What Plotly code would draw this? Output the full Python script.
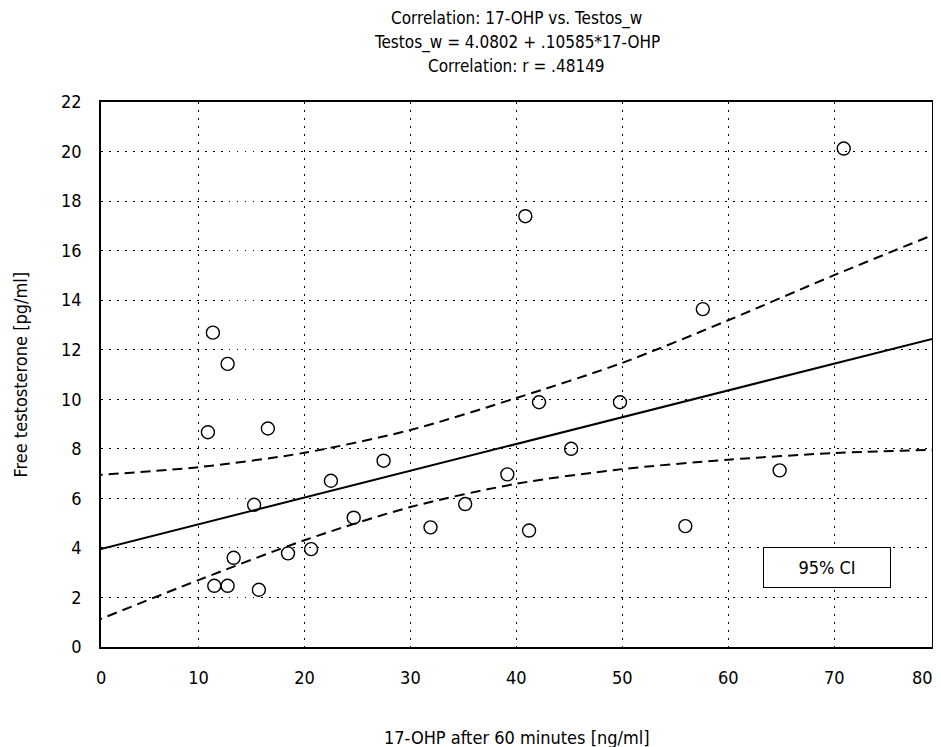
import plotly.graph_objects as go

# Scatter data: 17-OHP after 60 min (x) vs free testosterone (y)
ohp = [11.36, 12.75, 10.89, 16.55, 15.25, 22.5, 27.47, 24.65, 13.32, 11.49, 12.75, 15.7,
       18.45, 20.63, 31.9, 35.17, 39.15, 41.2, 42.14, 45.17, 49.78, 40.85, 55.95, 57.6,
       64.85, 70.9]
testos = [12.69, 11.43, 8.67, 8.82, 5.74, 6.71, 7.52, 5.22, 3.60, 2.47, 2.47, 2.31,
          3.78, 3.95, 4.83, 5.77, 6.97, 4.70, 9.88, 8.00, 9.88, 17.39, 4.88, 13.64,
          7.13, 20.12]

# Regression line endpoints
fit_x = [0, 80]
fit_y = [3.87, 12.52]

# 95% confidence band
ci_x = [0, 10, 20, 30, 40, 50, 60, 70, 80]
ci_upper = [6.93, 7.26, 7.84, 8.76, 10.05, 11.47, 13.19, 15.01, 16.75]
ci_lower = [1.00, 2.70, 4.31, 5.65, 6.59, 7.18, 7.56, 7.83, 7.97]

x_ticks = [0, 10, 20, 30, 40, 50, 60, 70, 80]
y_ticks = [0, 2, 4, 6, 8, 10, 12, 14, 16, 18, 20, 22]
title_lines = ["Correlation: 17-OHP vs. Testos_w",
               "Testos_w = 4.0802 + .10585*17-OHP",
               "Correlation: r = .48149"]

FONT = "Liberation Sans Narrow, Arial Narrow, DejaVu Sans Condensed, sans-serif"

# the page body adds an 8px offset, so the figure is sized to fit the window
W, H = 933, 739
L, R, T, B = 93, 9, 94, 100
pw = W - L - R
ph = H - T - B
# the reference frame starts/ends slightly inside 0 and 80 on the x scale
x_range = [0.8, 79.23]

fig = go.Figure()
fig.add_trace(go.Scatter(x=ci_x, y=ci_upper, mode="lines", line=dict(color="black", width=2, dash="10px,6px", shape="spline", smoothing=0.8), hoverinfo="skip"))
fig.add_trace(go.Scatter(x=ci_x, y=ci_lower, mode="lines", line=dict(color="black", width=2, dash="10px,6px", shape="spline", smoothing=0.8), hoverinfo="skip"))
fig.add_trace(go.Scatter(x=fit_x, y=fit_y, mode="lines", line=dict(color="black", width=2)))
fig.add_trace(go.Scatter(x=ohp, y=testos, mode="markers",
                         marker=dict(symbol="circle-open", size=13, color="black", line=dict(width=1.4, color="black"))))

axis_common = dict(showline=True, linecolor="black", linewidth=1.5, mirror=True,
                   showgrid=True, gridcolor="black", gridwidth=1.2, griddash="1.5px,6.5px",
                   zeroline=False, ticks="", automargin=False,
                   tickfont=dict(family=FONT, size=18, color="black"))

annotations = []
# title lines
for i, line in enumerate(title_lines):
    annotations.append(dict(text=line, xref="paper", yref="paper", x=0.5, y=1 + (84 - 24 * i) / ph,
                            xanchor="center", yanchor="middle", showarrow=False,
                            font=dict(family=FONT, size=17, color="black")))
# end tick labels sitting at the frame edges
annotations.append(dict(text=str(x_ticks[0]), xref="paper", yref="paper", x=0, y=-30 / ph,
                        xanchor="center", yanchor="middle", showarrow=False,
                        font=dict(family=FONT, size=18, color="black")))
annotations.append(dict(text=str(x_ticks[-1]), xref="paper", yref="paper", x=1 + 3 / pw, y=-30 / ph,
                        xanchor="right", yanchor="middle", showarrow=False,
                        font=dict(family=FONT, size=18, color="black")))
annotations += [
    dict(text="95% CI", xref="paper", yref="paper", x=0.8736, y=0.1459,
         xanchor="center", yanchor="middle", showarrow=False,
         font=dict(family=FONT, size=18, color="black"),
         bordercolor="black", borderwidth=1, bgcolor="white",
         width=124, height=37),
    dict(text="17-OHP after 60 minutes [ng/ml]", xref="paper", yref="paper",
         x=0.5, y=-90 / ph, xanchor="center", yanchor="middle", showarrow=False,
         font=dict(family=FONT, size=18, color="black")),
    dict(text="Free testosterone [pg/ml]", xref="paper", yref="paper", textangle=-90,
         x=-81 / pw, y=0.5, xanchor="center", yanchor="middle", showarrow=False,
         font=dict(family=FONT, size=18, color="black")),
]

fig.update_layout(
    width=W, height=H,
    margin=dict(l=L, r=R, t=T, b=B),
    paper_bgcolor="white", plot_bgcolor="white",
    showlegend=False,
    font=dict(family=FONT, color="black"),
    xaxis=dict(range=x_range, tickvals=x_ticks[1:-1], ticklabelstandoff=14, **axis_common),
    yaxis=dict(range=[0, 22], tickvals=y_ticks, ticklabelstandoff=14, **axis_common),
    annotations=annotations,
)

fig.write_html("out.html")
